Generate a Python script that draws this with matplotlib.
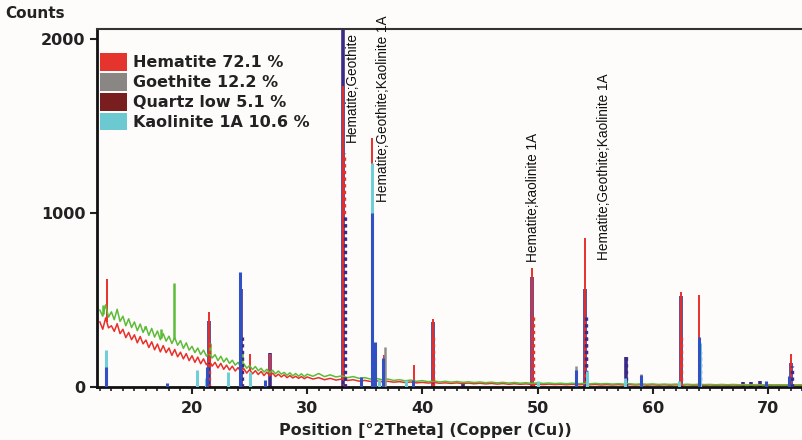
import numpy as np
import matplotlib
matplotlib.use("Agg")
import matplotlib.pyplot as plt
from matplotlib.patches import Patch

bg_x_lo = np.arange(12.0, 30.0, 0.25)
bg_x_hi = np.arange(30.0, 73.01, 0.5)

red_lo = [372, 330, 395, 338, 350, 318, 362, 305,
          330, 282, 312, 270, 298, 252, 288, 246,
          268, 225, 258, 212, 245, 200, 236, 196,
          222, 180, 214, 172, 198, 160, 190, 150,
          178, 140, 170, 132, 160, 126, 150, 118,
          140, 108, 134, 100, 124, 96, 118, 90,
          110, 84, 104, 78, 98, 74, 92, 70,
          88, 64, 84, 62, 78, 58, 72, 56,
          68, 52, 64, 50, 60, 48, 58, 46]
red_hi = [56, 44, 52, 40, 48, 38, 44, 36, 40, 32, 36,
          30, 34, 28, 31, 26, 29,
          24, 27, 22, 25, 21, 24, 20, 22,
          19, 22, 18, 21, 17, 20, 16, 19,
          15, 18, 14, 17, 14, 16, 13, 15,
          12, 15, 12, 14, 11, 14, 11, 13,
          11, 13, 10, 12, 10, 12, 10, 12,
          10, 12, 9, 11, 9, 11, 9, 11,
          9, 11, 9, 10, 8, 10, 8, 10,
          8, 10, 8, 10, 8, 9, 8, 9,
          8, 9, 8, 9, 8, 9]

green_lo = [440, 405, 470, 400, 430, 385, 445, 375,
            405, 350, 390, 340, 372, 322, 360, 312,
            345, 295, 335, 285, 320, 270, 305, 262,
            290, 248, 282, 238, 265, 220, 252, 210,
            232, 196, 222, 185, 210, 176, 198, 165,
            184, 150, 175, 142, 164, 134, 152, 124,
            140, 112, 132, 106, 122, 98, 116, 92,
            106, 84, 100, 80, 94, 74, 90, 72,
            82, 66, 80, 62, 76, 60, 74, 58]
green_hi = [72, 60, 76, 58, 68, 56, 62, 52, 58, 48, 52,
            44, 48, 40, 44, 36, 40,
            34, 38, 31, 35, 29, 33, 27, 31,
            26, 30, 25, 28, 24, 27, 23, 26,
            22, 25, 21, 24, 20, 23, 19, 22,
            19, 21, 18, 20, 17, 20, 17, 19,
            16, 19, 16, 18, 15, 17, 15, 17,
            14, 16, 14, 16, 13, 15, 13, 15,
            12, 14, 12, 14, 12, 13, 11, 13,
            11, 13, 11, 12, 10, 12, 10, 12,
            10, 11, 10, 11, 10, 11]

# peaks of the measured patterns
red_peak_pos = [12.6, 21.45, 24.2, 25.0, 26.75, 33.15, 35.65, 36.7, 39.3,
                40.9, 49.5, 54.1, 62.45, 64.05, 72.05]
red_peak_h = [620, 430, 590, 185, 190, 1725, 1430, 180, 125,
              390, 682, 855, 546, 527, 186]
green_peak_pos = [12.3, 15.9, 17.3, 18.45, 21.6, 24.3]
green_peak_h = [470, 350, 330, 595, 250, 200]

# reference stick patterns
purple_pos = [21.45, 24.25, 26.75, 33.15, 40.9, 43.5, 49.5, 54.1,
              57.65, 62.45, 67.8, 68.5, 69.3, 72.05]
purple_h = [380, 560, 195, 2100, 374, 20, 632, 561,
            171, 521, 25, 25, 30, 136]
purple_dot_pos = [24.3, 33.3, 54.2, 57.7, 64.1, 72.1]
purple_dot_h = [300, 990, 420, 171, 200, 120]
blue_pos = [12.55, 17.8, 21.3, 24.15, 26.3, 34.7, 35.65, 35.85, 36.6,
            39.2, 53.3, 59.0, 64.05, 69.8, 71.8]
blue_h = [113, 20, 113, 660, 40, 55, 1000, 259, 165,
          40, 96, 67, 287, 35, 60]
cyan_pos = [12.5, 20.4, 21.2, 23.1, 25.0, 35.6, 36.2, 38.6, 50.0, 54.3,
            57.6, 62.3, 64.15]
cyan_h = [210, 95, 50, 85, 85, 1285, 40, 40, 30, 90, 50, 30, 250]
gray_pos = [36.75, 53.3, 59.0]
gray_h = [228, 120, 75]
red_dot_pos = [21.5, 33.2, 40.95, 49.6, 54.2, 62.5]
red_dot_h = [250, 1340, 300, 400, 300, 300]

legend_labels = ["Hematite 72.1 %", "Goethite 12.2 %", "Quartz low 5.1 %", "Kaolinite 1A 10.6 %"]
legend_colors = ["#e5332e", "#8a8683", "#781e1e", "#6cc9d1"]

notes = ["Hematite;Geothite", "Hematite;Geothite;Kaolinite 1A",
         "Hematite;kaolinite 1A", "Hematite;Geothite;Kaolinite 1A"]
note_x = [33.9, 36.6, 49.6, 55.8]
note_y = [1406, 1061, 717, 728]

RED = "#e8302a"
GREEN = "#5dbb3a"
PURPLE = "#3b2a86"
BLUE = "#3050c4"
CYAN = "#6ecfd6"
GRAY = "#8e8e8e"

fig = plt.figure(figsize=(8.03, 4.40), dpi=100)
fig.patch.set_facecolor("#fdfcfa")
ax = fig.add_axes([97 / 803, 53.3 / 440, 706 / 803, 357.7 / 440])
ax.set_facecolor("#fdfcfa")

bg_x = np.concatenate([bg_x_lo, bg_x_hi])
red_bg = np.array(red_lo + red_hi)
green_bg = np.array(green_lo + green_hi)

# sticks behind the measured lines
ax.vlines(purple_pos, 0, purple_h, colors=PURPLE, lw=2.6, zorder=1.5)

ax.plot(bg_x, red_bg, color=RED, lw=1.1, zorder=2)
ax.vlines(red_peak_pos, np.interp(red_peak_pos, bg_x, red_bg), red_peak_h,
          colors=RED, lw=1.4, zorder=2)
ax.plot(bg_x, green_bg, color=GREEN, lw=1.1, zorder=2.2)
ax.vlines(green_peak_pos, np.interp(green_peak_pos, bg_x, green_bg), green_peak_h,
          colors=GREEN, lw=1.8, zorder=2.2)

ax.vlines(red_dot_pos, 0, red_dot_h, colors=RED, lw=2.4, linestyles=(0, (1, 1)), zorder=2.5)
ax.vlines(purple_dot_pos, 0, purple_dot_h, colors=PURPLE, lw=2.4, linestyles=(0, (1, 1)), zorder=2.6)
ax.vlines(gray_pos, 0, gray_h, colors=GRAY, lw=1.8, zorder=3)
ax.vlines(cyan_pos, 0, cyan_h, colors=CYAN, lw=2.2, zorder=3.5)
ax.vlines(blue_pos, 0, blue_h, colors=BLUE, lw=2.2, zorder=4)

for txt, x, y in zip(notes, note_x, note_y):
    ax.text(x, y, txt, rotation=90, ha="center", va="bottom", fontsize=9.8,
            family="Liberation Sans", color="#111111", zorder=6)

ax.set_xlim(11.75, 73.05)
ax.set_ylim(0, 2055)
ax.set_yticks([0, 1000, 2000])
ax.set_xticks([20, 30, 40, 50, 60, 70])
ax.set_xticks(np.arange(12, 74, 1), minor=True)
ax.tick_params(axis="both", which="major", labelsize=11.5, colors="#222222",
               width=1.5, length=5)
ax.tick_params(axis="x", which="major", pad=5)
ax.tick_params(axis="x", which="minor", length=3, width=1.2, colors="#222222")
for lab in ax.get_xticklabels() + ax.get_yticklabels():
    lab.set_fontweight("bold")

for s in ["left", "bottom"]:
    ax.spines[s].set_linewidth(2)
    ax.spines[s].set_color("#111111")
ax.spines["top"].set_linewidth(1.5)
ax.spines["top"].set_color("#333333")
ax.spines["right"].set_visible(False)

handles = [Patch(facecolor=c, edgecolor="none") for c in legend_colors]
leg = ax.legend(handles, legend_labels, loc="upper left", bbox_to_anchor=(0.004, 0.933),
                frameon=False, borderpad=0, borderaxespad=0, handlelength=1.7,
                handleheight=1.35, labelspacing=0.12, handletextpad=0.4,
                prop={"weight": "bold", "size": 11.5})
for t in leg.get_texts():
    t.set_color("#222222")

fig.text(5 / 803, 1 - 14 / 440, "Counts", fontsize=11, fontweight="bold",
         color="#222222", va="center", ha="left")
fig.text(425 / 803, 1 - 430 / 440, "Position [°2Theta] (Copper (Cu))", fontsize=11.5,
         fontweight="bold", color="#222222", va="center", ha="center")

fig.savefig("out.png", dpi=100, facecolor=fig.get_facecolor())
